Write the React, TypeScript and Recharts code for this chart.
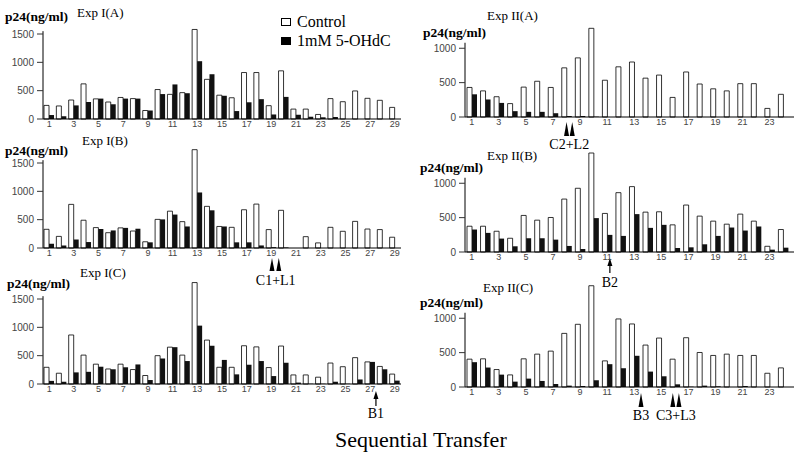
import React from 'react';
import { BarChart, Bar, XAxis, YAxis, Legend, ReferenceLine, ReferenceDot } from 'recharts';

// transfer numbers
const leftDays = [1, 2, 3, 4, 5, 6, 7, 8, 9, 10, 11, 12, 13, 14, 15, 16, 17, 18, 19, 20, 21, 22, 23, 24, 25, 26, 27, 28, 29];
const rightDays = [1, 2, 3, 4, 5, 6, 7, 8, 9, 10, 11, 12, 13, 14, 15, 16, 17, 18, 19, 20, 21, 22, 23, 24];
const leftTicks = [1, 3, 5, 7, 9, 11, 13, 15, 17, 19, 21, 23, 25, 27, 29];
const rightTicks = [1, 3, 5, 7, 9, 11, 13, 15, 17, 19, 21, 23];
const leftYTicks = [0, 500, 1000, 1500];
const rightYTicks = [0, 500, 1000];

// p24 (ng/ml), Exp I
const expIA_control = [240, 230, 335, 620, 355, 300, 380, 360, 150, 520, 435, 465, 1580, 700, 420, 375, 820, 820, 235, 850, 175, 175, 80, 360, 305, 495, 365, 330, 205];
const expIA_treated = [70, 50, 240, 300, 360, 260, 360, 360, 150, 440, 610, 455, 1020, 790, 410, 140, 295, 350, 80, 390, 75, 40, 30, 35, 0, 0, 0, 0, 0];
const expIB_control = [330, 205, 770, 490, 360, 270, 355, 300, 110, 505, 650, 465, 1735, 735, 380, 365, 675, 775, 325, 665, 0, 200, 90, 365, 295, 470, 335, 325, 190];
const expIB_treated = [75, 45, 150, 105, 335, 310, 355, 340, 100, 505, 590, 380, 980, 665, 380, 100, 100, 45, 15, 10, 0, 0, 0, 0, 0, 0, 0, 0, 0];
const expIC_control = [295, 190, 865, 510, 350, 265, 350, 255, 150, 500, 650, 510, 1790, 775, 295, 295, 675, 655, 290, 670, 160, 160, 120, 370, 305, 465, 390, 310, 175];
const expIC_treated = [55, 40, 205, 215, 305, 260, 295, 345, 70, 450, 650, 405, 1030, 675, 425, 170, 340, 405, 140, 375, 25, 5, 5, 40, 5, 80, 390, 260, 60];

// p24 (ng/ml), Exp II
const expIIA_control = [430, 380, 295, 195, 435, 520, 430, 715, 860, 1290, 535, 730, 800, 565, 610, 285, 655, 480, 410, 380, 485, 485, 125, 330];
const expIIA_treated = [330, 255, 205, 85, 75, 75, 55, 15, 15, 5, 0, 0, 0, 0, 0, 0, 0, 0, 0, 0, 0, 0, 0, 0];
const expIIB_control = [375, 375, 302, 200, 532, 463, 502, 770, 927, 1440, 561, 863, 951, 580, 585, 395, 683, 522, 449, 405, 551, 449, 83, 327];
const expIIB_treated = [327, 278, 195, 83, 200, 200, 180, 88, 44, 493, 249, 234, 551, 351, 395, 58, 68, 112, 234, 356, 312, 371, 34, 63];
const expIIC_control = [405, 410, 254, 176, 410, 478, 522, 780, 912, 1473, 380, 990, 917, 610, 712, 405, 717, 502, 459, 478, 459, 459, 200, 278];
const expIIC_treated = [361, 283, 180, 78, 122, 88, 44, 20, 15, 98, 332, 273, 454, 224, 156, 39, 5, 20, 10, 0, 15, 0, 0, 0];

const SERIF = '"Liberation Serif", "Times New Roman", serif';
const SANS = '"Liberation Sans", Arial, sans-serif';

const MT = 4;
const XH = 14;
const MB = 34;

const LEFT = {
  days: leftDays, ticks: leftTicks, yTicks: leftYTicks,
  chartLeft: 0, ml: 8, mr: 8, plotW: 358, xDomain: [0.5, 29.5],
  yMax: 1800, plotH: 102, axisTop: 1550,
};
const RIGHT = {
  days: rightDays, ticks: rightTicks, yTicks: rightYTicks,
  chartLeft: 420, ml: 10, mr: 6, plotW: 329, xDomain: [0.5, 24.8],
  yMax: 1600, plotH: 110, axisTop: 1080,
};

type Mark = { at: number[]; label: string; labelAt: number; top: number; bottom: number; labelDy: number; shaft?: boolean };

const panels = [
  { side: LEFT, baseline: 119, control: expIA_control, treated: expIA_treated, legend: true, marks: [] as Mark[] },
  {
    side: LEFT, baseline: 248, control: expIB_control, treated: expIB_treated,
    marks: [{ at: [19.05, 19.6], label: 'C1+L1', labelAt: 19.35, top: 10, bottom: 23, labelDy: 32 }],
  },
  {
    side: LEFT, baseline: 384, control: expIC_control, treated: expIC_treated,
    marks: [{ at: [27.47], label: 'B1', labelAt: 27.47, top: 7, bottom: 22, labelDy: 29, shaft: true }],
  },
  {
    side: RIGHT, baseline: 117, control: expIIA_control, treated: expIIA_treated,
    marks: [{ at: [8.0, 8.42], label: 'C2+L2', labelAt: 8.2, top: 5, bottom: 19, labelDy: 27 }],
  },
  {
    side: RIGHT, baseline: 252, control: expIIB_control, treated: expIIB_treated,
    marks: [{ at: [11.2], label: 'B2', labelAt: 11.2, top: 6, bottom: 21, labelDy: 30, shaft: true }],
  },
  {
    side: RIGHT, baseline: 387, control: expIIC_control, treated: expIIC_treated,
    marks: [
      { at: [13.5], label: 'B3', labelAt: 13.5, top: 6, bottom: 20, labelDy: 28 },
      { at: [15.85, 16.3], label: 'C3+L3', labelAt: 16.08, top: 6, bottom: 20, labelDy: 28 },
    ],
  },
];

const texts = [
  { t: 'p24(ng/ml)', x: 5, y: 17, size: 13.5, bold: true },
  { t: 'Exp I(A)', x: 77, y: 12, size: 13 },
  { t: 'p24(ng/ml)', x: 5, y: 151, size: 13.5, bold: true },
  { t: 'Exp I(B)', x: 82, y: 140, size: 13 },
  { t: 'p24(ng/ml)', x: 7, y: 284, size: 13.5, bold: true },
  { t: 'Exp I(C)', x: 80, y: 272, size: 13 },
  { t: 'p24(ng/ml)', x: 423, y: 33, size: 13.5, bold: true },
  { t: 'Exp II(A)', x: 487, y: 15, size: 13 },
  { t: 'p24(ng/ml)', x: 420, y: 168, size: 13.5, bold: true },
  { t: 'Exp II(B)', x: 487, y: 155, size: 13 },
  { t: 'p24(ng/ml)', x: 420, y: 303, size: 13.5, bold: true },
  { t: 'Exp II(C)', x: 483, y: 287, size: 13 },
  { t: 'Sequential Transfer', x: 335, y: 440, size: 22 },
];

const LegendBox = ({ payload }: any) => {
  // control first, like the original key
  const items = [...(payload || [])].sort((a: any, b: any) => (a.value === 'Control' ? -1 : b.value === 'Control' ? 1 : 0));
  return (
    <div style={{ fontFamily: SERIF, fontSize: 16, lineHeight: '19px', color: '#000' }}>
      {items.map((e: any) => (
        <div key={e.value} style={{ display: 'flex', alignItems: 'center', whiteSpace: 'nowrap', fontFamily: SERIF }}>
          <span
            style={{
              display: 'inline-block', width: 8, height: 6, marginRight: 6,
              background: e.value === 'Control' ? '#fff' : '#000', border: '1px solid #000',
            }}
          />
          <span style={{ fontFamily: SERIF }}>{e.value}</span>
        </div>
      ))}
    </div>
  );
};

function Panel({ p }: any) {
  const L = p.side;
  const data = L.days.map((d: number, i: number) => ({ day: d, control: p.control[i], treated: p.treated[i] }));
  const height = MT + L.plotH + XH + MB;
  const width = L.ml + 35 + L.plotW + L.mr;
  return (
    <div style={{ position: 'absolute', left: L.chartLeft, top: p.baseline - L.plotH - MT }}>
      <BarChart
        width={width}
        height={height}
        data={data}
        margin={{ top: MT, right: L.mr, bottom: MB, left: L.ml }}
        barGap={0}
        barSize={5}
      >
        <XAxis
          type="number"
          dataKey="day"
          domain={L.xDomain}
          ticks={L.ticks}
          interval={0}
          height={XH}
          tickLine={false}
          tickSize={0}
          tickMargin={2}
          axisLine={{ stroke: '#000' }}
          tick={{ fontSize: 9, fill: '#444', fontFamily: SANS }}
        />
        <YAxis
          type="number"
          domain={[0, L.yMax]}
          ticks={L.yTicks}
          interval={0}
          width={35}
          axisLine={false}
          tickLine={{ stroke: '#333' }}
          tickSize={6}
          tickMargin={3}
          tick={{ fontSize: 10, fill: '#444', fontFamily: SANS }}
        />
        <ReferenceLine
          segment={[{ x: L.xDomain[0], y: 0 }, { x: L.xDomain[0], y: L.axisTop }]}
          stroke="#000"
          ifOverflow="visible"
        />
        <Bar dataKey="control" name="Control" fill="#fff" stroke="#000" strokeWidth={0.8} isAnimationActive={false} />
        <Bar dataKey="treated" name="1mM 5-OHdC" fill="#111" isAnimationActive={false} />
        {p.legend && (
          <Legend
            layout="vertical"
            align="center"
            verticalAlign="middle"
            content={<LegendBox />}
            wrapperStyle={{ top: -1, left: 281, width: 130, height: 40 }}
          />
        )}
        {p.marks.map((m: Mark) =>
          m.at.map((a, j) => (
            <ReferenceDot
              key={m.label + j}
              x={a}
              y={0}
              r={0}
              ifOverflow="visible"
              shape={(s: any) => (
                <g>
                  {m.shaft ? (
                    <>
                      <path d={`M${s.cx},${s.cy + m.top} L${s.cx - 2.5},${s.cy + m.top + 8} L${s.cx + 2.5},${s.cy + m.top + 8} Z`} fill="#000" />
                      <line x1={s.cx} x2={s.cx} y1={s.cy + m.top + 6} y2={s.cy + m.bottom} stroke="#000" strokeWidth={1.2} />
                    </>
                  ) : (
                    <path d={`M${s.cx},${s.cy + m.top} L${s.cx - 2.5},${s.cy + m.bottom} L${s.cx + 2.5},${s.cy + m.bottom} Z`} fill="#000" />
                  )}
                </g>
              )}
            />
          ))
        )}
        {p.marks.map((m: Mark) => (
          <ReferenceDot
            key={m.label}
            x={m.labelAt}
            y={0}
            r={0}
            ifOverflow="visible"
            shape={(s: any) => (
              <text x={s.cx} y={s.cy + m.labelDy} textAnchor="middle" dominantBaseline="central" fontFamily={SERIF} fontSize={14} fill="#000">
                {m.label}
              </text>
            )}
          />
        ))}
      </BarChart>
    </div>
  );
}

export default function App() {
  return (
    <div style={{ position: 'absolute', left: 0, top: 0, width: 800, height: 457, background: '#fff', overflow: 'hidden' }}>
      {panels.map((p, i) => (
        <Panel key={i} p={p} />
      ))}
      {texts.map((t, i) => (
        <div
          key={i}
          style={{
            position: 'absolute', left: t.x, top: t.y - t.size * 0.5, fontFamily: SERIF, fontSize: t.size,
            fontWeight: t.bold ? 'bold' : 'normal', lineHeight: 1, whiteSpace: 'nowrap', color: '#000',
          }}
        >
          {t.t}
        </div>
      ))}
    </div>
  );
}
